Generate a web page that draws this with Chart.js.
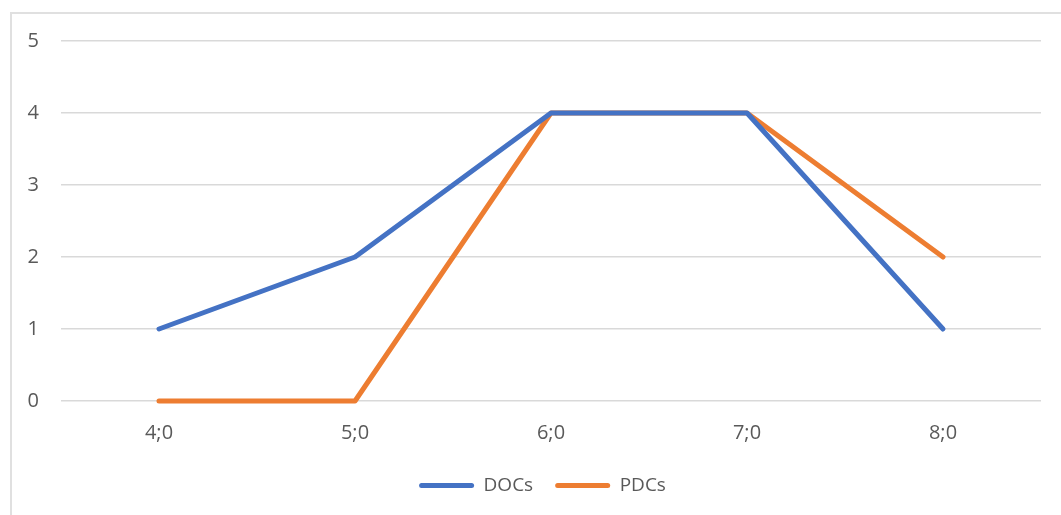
<!DOCTYPE html>
<html>
<head>
<meta charset="utf-8">
<script src="https://cdn.jsdelivr.net/npm/chart.js@4"></script>
<style>
  html, body { margin: 0; padding: 0; background: #fff; overflow: hidden; }
  #frame { position: absolute; left: 10px; top: 12px; width: 2000px; height: 1000px; border: 2px solid #e0e0e0; box-sizing: border-box; }
  #wrap { position: absolute; left: 0; top: 0; width: 1061px; height: 515px; }
</style>
</head>
<body>
<div id="frame"></div>
<div id="wrap"><canvas id="c" width="1061" height="515"></canvas></div>
<script>
const categories = ["4;0", "5;0", "6;0", "7;0", "8;0"];
const docs = [1, 2, 4, 4, 1];
const pdcs = [0, 0, 4, 4, 2];
const yTicks = [0, 1, 2, 3, 4, 5];

const FONT = "'Open Sans', sans-serif";
const TEXT = "#595959";

const legendShift = {
  id: 'legendShift',
  afterLayout(chart) {
    if (chart.legend) { chart.legend.left += 22; chart.legend.right += 22; }
  }
};

new Chart(document.getElementById('c'), {
  type: 'line',
  data: {
    labels: categories,
    datasets: [
      { label: 'DOCs', data: docs, borderColor: '#4472C4', backgroundColor: '#4472C4', borderWidth: 5, pointRadius: 0, tension: 0, borderCapStyle: 'round', borderJoinStyle: 'round', clip: false },
      { label: 'PDCs', data: pdcs, borderColor: '#ED7D31', backgroundColor: '#ED7D31', borderWidth: 5, pointRadius: 0, tension: 0, borderCapStyle: 'round', borderJoinStyle: 'round', clip: false }
    ]
  },
  plugins: [legendShift],
  options: {
    responsive: false,
    animation: false,
    devicePixelRatio: 1,
    layout: { padding: { top: 41, right: 20, left: 0, bottom: 10 } },
    plugins: {
      tooltip: { enabled: false },
      legend: {
        position: 'bottom',
        labels: {
          font: { family: FONT, size: 19 },
          color: TEXT,
          boxWidth: 55,
          boxHeight: 5,
          padding: 22,
          useBorderRadius: true,
          borderRadius: 2.5,
          generateLabels(chart) {
            return chart.data.datasets.map((ds, i) => ({
              text: ds.label,
              fillStyle: ds.borderColor,
              strokeStyle: ds.borderColor,
              lineWidth: 0,
              fontColor: TEXT,
              datasetIndex: i,
              hidden: false,
              borderRadius: 2.5
            }));
          }
        }
      }
    },
    scales: {
      x: {
        offset: true,
        afterFit(scale) { scale.height = 53; },
        grid: { display: false, drawTicks: false },
        border: { display: false },
        ticks: { font: { family: FONT, size: 20 }, color: TEXT, padding: 20 }
      },
      y: {
        min: 0, max: 5,
        afterFit(scale) { scale.width = 61; },
        afterBuildTicks(scale) { scale.ticks = yTicks.map(v => ({ value: v })); },
        grid: { color: '#d9d9d9', lineWidth: 1.5, drawTicks: false },
        border: { display: false },
        ticks: { font: { family: FONT, size: 20 }, color: TEXT, padding: 22 }
      }
    }
  }
});
</script>
</body>
</html>
